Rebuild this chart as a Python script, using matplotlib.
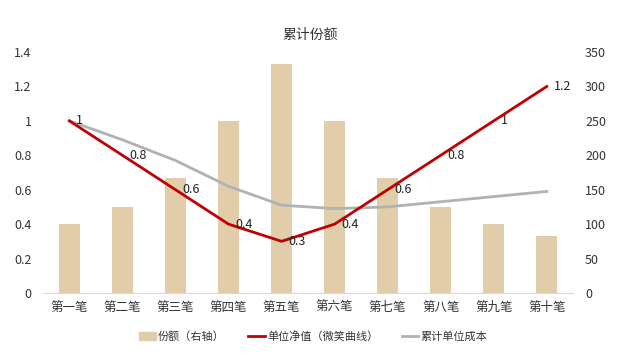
import matplotlib.pyplot as plt
import numpy as np
from matplotlib.patches import Patch
from matplotlib.lines import Line2D

plt.rcParams['font.family'] = ['Noto Sans CJK SC', 'DejaVu Sans']

categories = ["第一笔", "第二笔", "第三笔", "第四笔", "第五笔",
              "第六笔", "第七笔", "第八笔", "第九笔", "第十笔"]
shares = [100, 125, 166.67, 250, 333.33, 250, 166.67, 125, 100, 83.33]
nav = [1, 0.8, 0.6, 0.4, 0.3, 0.4, 0.6, 0.8, 1, 1.2]
nav_labels = ["1", "0.8", "0.6", "0.4", "0.3", "0.4", "0.6", "0.8", "1", "1.2"]
avg_cost = [1.0, 0.89, 0.77, 0.62, 0.51, 0.49, 0.50, 0.53, 0.56, 0.59]

bar_color = "#E2CDAB"
red = "#C00000"
grey = "#AEB3B3"
text_color = "#333333"

fig = plt.figure(figsize=(6.3, 3.59), dpi=100)
ax = fig.add_axes([0.068, 0.184, 0.842, 0.671])
ax2 = ax.twinx()

x = np.arange(len(categories))

# bars on the right axis, lines on the left axis
ax2.bar(x, shares, width=0.39, color=bar_color, zorder=1)
ax2.set_ylim(0, 350)
ax2.set_yticks(np.arange(0, 351, 50))

ax.set_zorder(ax2.get_zorder() + 1)
ax.patch.set_visible(False)
ax.plot(x, avg_cost, color=grey, linewidth=2)
ax.plot(x, nav, color=red, linewidth=2)
for xi, yi, lab in zip(x, nav, nav_labels):
    ax.annotate(lab, (xi, yi), xytext=(5, 0), textcoords="offset points",
                ha="left", va="center", fontsize=9, color="#222222")

ax.set_ylim(0, 1.4)
ax.set_yticks(np.arange(0, 1.41, 0.2))
ax.set_yticklabels(["0", "0.2", "0.4", "0.6", "0.8", "1", "1.2", "1.4"])
ax.set_xlim(-0.5, len(categories) - 0.5)
ax.set_xticks(x)
ax.set_xticklabels(categories)

for a in (ax, ax2):
    for s in a.spines.values():
        s.set_visible(False)
    a.tick_params(length=0, labelsize=9, colors=text_color, pad=6)
ax.spines["bottom"].set_visible(True)
ax.spines["bottom"].set_color("#D9D9D9")
ax.tick_params(axis="y", pad=8)
ax2.tick_params(axis="y", pad=8.5)

fig.text(0.492, 0.903, "累计份额", ha="center", va="center", fontsize=10, color=text_color)

handles = [Patch(color=bar_color),
           Line2D([], [], color=red, linewidth=2),
           Line2D([], [], color=grey, linewidth=2)]
labels = ["份额（右轴）", "单位净值（微笑曲线）", "累计单位成本"]
fig.legend(handles, labels, loc="center", bbox_to_anchor=(0.497, 0.064), ncol=3,
           frameon=False, fontsize=8, handlelength=1.5, handletextpad=0.2,
           columnspacing=2.1, labelcolor=text_color)

fig.savefig("out.png", dpi=100)
